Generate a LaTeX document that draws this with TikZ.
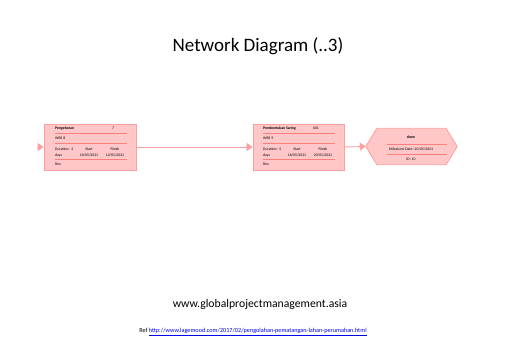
\documentclass[tikz,border=0pt]{standalone}
\usepackage{fontspec}
\setmainfont{Carlito}
\usetikzlibrary{arrows.meta,calc}
\definecolor{boxfill}{HTML}{FFC7C7}
\definecolor{boxline}{HTML}{FF9E9E}
\definecolor{sepline}{HTML}{FF7F7F}
\definecolor{linkblue}{HTML}{0000EE}
\begin{document}
\begin{tikzpicture}[x=1pt,y=-1pt,
  taskbox/.style={draw=boxline,fill=boxfill,line width=0.8pt,minimum width=92pt,minimum height=46pt,inner sep=0pt},
  tiny/.style={font=\fontsize{3.8}{4}\selectfont,inner sep=0pt,anchor=west},
  tinyc/.style={font=\fontsize{3.8}{4}\selectfont,inner sep=0pt},
  sep/.style={draw=sepline,line width=0.6pt},
  conn/.style={draw=boxline,line width=0.9pt,-{Triangle[length=6pt,width=8pt]}}]
\useasboundingbox (0,0) rectangle (507,358);
% title
\node[font=\fontsize{19}{21}\selectfont] (title) at (258,46) {Network Diagram (..3)};
% box 1
\node[taskbox] (b1) at (90,147) {};
\node[tiny,font=\fontsize{3.8}{4}\selectfont\bfseries] (b1t) at (55,128) {Pengeboran};
\node[tinyc] (b1id) at (113,128) {7};
\node[tiny] (b1w) at (55,138) {WBS 8};
\node[tiny] (b1d) at (55,149) {Duration:\ \ 2};
\node[tiny] (b1dy) at (55,155) {days};
\node[tinyc] (b1s) at (89,149) {Start};
\node[tinyc] (b1sd) at (89,155) {10/05/2021};
\node[tinyc] (b1f) at (115,149) {Finish};
\node[tinyc] (b1fd) at (115,155) {12/05/2021};
\node[tiny] (b1r) at (55,164) {Res:};
\draw[sep] (55,133) -- (127,133);
\draw[sep] (55,143) -- (127,143);
\draw[sep] (55,159) -- (127,159);
% box 2
\node[taskbox,minimum width=91pt] (b2) at (298.5,147) {};
\node[tiny,font=\fontsize{3.8}{4}\selectfont\bfseries] (b2t) at (263,128) {Pembentukan Saring};
\node[tinyc] (b2id) at (316,128) {601};
\node[tiny] (b2w) at (263,138) {WBS 9};
\node[tiny] (b2d) at (263,149) {Duration:\ \ 5};
\node[tiny] (b2dy) at (263,155) {days};
\node[tinyc] (b2s) at (297,149) {Start};
\node[tinyc] (b2sd) at (297,155) {16/05/2021};
\node[tinyc] (b2f) at (323,149) {Finish};
\node[tinyc] (b2fd) at (323,155) {20/05/2021};
\node[tiny] (b2r) at (263,164) {Res:};
\draw[sep] (263,133) -- (335,133);
\draw[sep] (263,143) -- (335,143);
\draw[sep] (263,159) -- (335,159);
% milestone hexagon
\node[minimum width=91pt,minimum height=36pt,inner sep=0pt] (m) at (411.5,146.5) {};
\filldraw[draw=boxline,fill=boxfill,line width=0.8pt]
  (m.west) -- ($(m.north west)+(11,0)$) -- ($(m.north east)+(-11,0)$) -- (m.east)
  -- ($(m.south east)+(-11,0)$) -- ($(m.south west)+(11,0)$) -- cycle;
\node[tinyc,font=\fontsize{3.8}{4}\selectfont\bfseries] (mt) at (411,137) {done};
\node[tinyc] (md) at (411,149) {Milestone Date: 20/05/2021};
\node[tinyc] (mi) at (411,159) {ID: 10};
\draw[sep] (387,144) -- (447,144);
\draw[sep] (387,154) -- (447,154);
% connectors
\coordinate (start) at (37,147);
\draw[conn] (start) -- (b1.west);
\draw[conn] (b1.east) -- (b2.west);
\draw[conn] (b2.east) -- (m.west);
% footer
\node[font=\fontsize{11.7}{13}\selectfont] (web) at (260,304) {www.globalprojectmanagement.asia};
\node[font=\fontsize{6.2}{7}\selectfont] (ref) at (253,332) {Ref \textcolor{linkblue}{\underline{http://www.lagemood.com/2017/02/pengolahan-pematangan-lahan-perumahan.html}}};
\end{tikzpicture}
\end{document}
